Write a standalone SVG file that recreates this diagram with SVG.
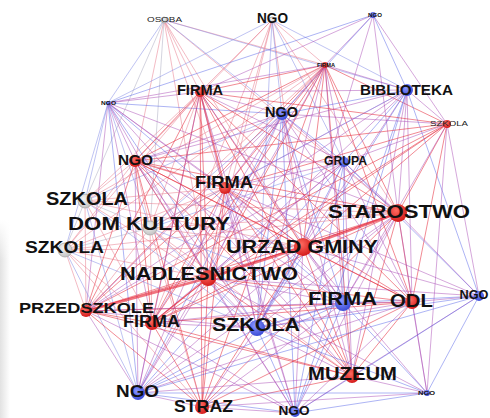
<svg xmlns="http://www.w3.org/2000/svg" width="490" height="418" viewBox="0 0 490 418">
<defs>
<style>
#edges path{fill:none;stroke-width:1;stroke-linecap:round}
.rr{stroke:#e62a3a;stroke-opacity:.55}
.rb{stroke:#a848b4;stroke-opacity:.48}
.bb{stroke:#4a58e6;stroke-opacity:.45}
.rg{stroke:#e8788a;stroke-opacity:.5}
.bg{stroke:#8088e6;stroke-opacity:.5}
.gg{stroke:#b0b0c4;stroke-opacity:.55}
.thk{stroke:#e62a3a;stroke-opacity:.65;stroke-width:2.4 !important}
.thm{stroke:#e62a3a;stroke-opacity:.55;stroke-width:1.6 !important}
.thb{stroke:#6a58d8;stroke-opacity:.55;stroke-width:1.5 !important}
.nr{fill:url(#gr)}
.nb{fill:url(#gb)}
.ng{fill:url(#gg);stroke:#a8a8a8;stroke-width:.8}
text{font-family:"Liberation Sans",Arial,sans-serif;font-weight:bold;fill:#111;text-anchor:middle}
.tn{font-weight:normal;fill:#222}
</style>
<radialGradient id="gr" cx="40%" cy="35%" r="65%"><stop offset="0" stop-color="#ff6a60"/><stop offset="1" stop-color="#d41c1c"/></radialGradient>
<radialGradient id="gb" cx="40%" cy="35%" r="65%"><stop offset="0" stop-color="#8a96ff"/><stop offset="1" stop-color="#3c4cd6"/></radialGradient>
<radialGradient id="gg" cx="40%" cy="35%" r="65%"><stop offset="0" stop-color="#f4f4f4"/><stop offset="1" stop-color="#c4c4c4"/></radialGradient>
<linearGradient id="strip" x1="0" y1="0" x2="1" y2="0"><stop offset="0" stop-color="#e2e2e2"/><stop offset="1" stop-color="#ffffff"/></linearGradient>
<linearGradient id="fade" x1="0" y1="0" x2="0" y2="1"><stop offset="0" stop-color="#fff" stop-opacity="1"/><stop offset="1" stop-color="#fff" stop-opacity="0"/></linearGradient>
</defs>
<rect width="490" height="418" fill="#fff"/>
<rect x="0" y="220" width="10" height="198" fill="url(#strip)"/>
<rect x="0" y="220" width="10" height="40" fill="url(#fade)"/>
<g id="edges">
<path class="rg" d="M164 20L200 92M164 20L135 161M164 20L225 188M164 20L325 65M164 20L303 247M164 20L208 278M164 20L398 213"/>
<path class="bg" d="M164 20L108 103M164 20L282 114M164 20L407 90"/>
<path class="gg" d="M164 20L150 228M164 20L85 201"/>
<path class="rg" d="M272 20L200 92M272 20L325 65M272 20L225 188M272 20L303 247M272 20L135 161M272 20L208 278M272 20L398 213M272 20L152 323"/>
<path class="bg" d="M272 20L282 114M272 20L344 162M272 20L108 103M272 20L407 90M272 20L257 328"/>
<path class="rb" d="M373 15L325 65M373 15L200 92M373 15L447 124M373 15L398 213M373 15L303 247"/>
<path class="bb" d="M373 15L407 90M373 15L108 103M373 15L282 114"/>
<path class="rr" d="M325 65L200 92M325 65L135 161M325 65L225 188M325 65L303 247M325 65L208 278M325 65L398 213M325 65L447 124M325 65L86 311M325 65L152 323M325 65L412 302M325 65L352 376M325 65L202 407"/>
<path class="rb" d="M325 65L282 114M325 65L344 162M325 65L407 90M325 65L257 328M325 65L343 303M325 65L108 103M325 65L138 393"/>
<path class="rg" d="M325 65L150 228M325 65L85 201M325 65L65 250"/>
<path class="rb" d="M407 90L398 213M407 90L200 92M407 90L135 161M407 90L225 188M407 90L303 247M407 90L208 278M407 90L412 302M407 90L447 124M407 90L352 376M407 90L86 311"/>
<path class="bb" d="M407 90L282 114M407 90L344 162M407 90L257 328M407 90L343 303M407 90L479 296M407 90L295 413"/>
<path class="bg" d="M407 90L150 228"/>
<path class="rr" d="M447 124L398 213M447 124L200 92M447 124L135 161M447 124L225 188M447 124L303 247M447 124L208 278M447 124L412 302M447 124L86 311M447 124L152 323"/>
<path class="rb" d="M447 124L343 303M447 124L479 296M447 124L282 114M447 124L344 162M447 124L427 393"/>
<path class="rb" d="M282 114L200 92M282 114L135 161M282 114L225 188M282 114L303 247M282 114L208 278M282 114L398 213M282 114L86 311M282 114L152 323M282 114L352 376M282 114L412 302"/>
<path class="bb" d="M282 114L344 162M282 114L257 328M282 114L343 303M282 114L138 393M282 114L108 103M282 114L295 413"/>
<path class="bg" d="M282 114L85 201M282 114L150 228"/>
<path class="rb" d="M344 162L398 213M344 162L200 92M344 162L135 161M344 162L225 188M344 162L303 247M344 162L208 278M344 162L412 302M344 162L352 376M344 162L86 311M344 162L152 323"/>
<path class="bb" d="M344 162L257 328M344 162L343 303M344 162L138 393M344 162L295 413M344 162L479 296"/>
<path class="bg" d="M344 162L150 228"/>
<path class="rr" d="M398 213L200 92M398 213L135 161M398 213L225 188M398 213L208 278M398 213L86 311M398 213L152 323M398 213L412 302M398 213L352 376M398 213L202 407"/>
<path class="rb" d="M398 213L257 328M398 213L343 303M398 213L479 296M398 213L427 393M398 213L295 413M398 213L138 393M398 213L108 103"/>
<path class="rg" d="M398 213L150 228M398 213L85 201M398 213L65 250"/>
<path class="rr" d="M200 92L135 161M200 92L303 247M200 92L208 278M200 92L86 311M200 92L152 323M200 92L412 302M200 92L352 376M200 92L202 407"/>
<path class="rb" d="M200 92L108 103M200 92L257 328M200 92L343 303M200 92L295 413M200 92L138 393"/>
<path class="rg" d="M200 92L85 201M200 92L150 228M200 92L65 250"/>
<path class="rb" d="M108 103L135 161M108 103L225 188M108 103L303 247M108 103L208 278M108 103L86 311M108 103L152 323M108 103L352 376"/>
<path class="bb" d="M108 103L257 328M108 103L343 303M108 103L138 393"/>
<path class="bg" d="M108 103L85 201M108 103L150 228M108 103L65 250"/>
<path class="rr" d="M135 161L303 247M135 161L208 278M135 161L86 311M135 161L152 323M135 161L412 302M135 161L352 376M135 161L202 407"/>
<path class="rb" d="M135 161L257 328M135 161L343 303M135 161L295 413M135 161L138 393"/>
<path class="rg" d="M135 161L85 201M135 161L150 228M135 161L65 250"/>
<path class="rr" d="M225 188L303 247M225 188L208 278M225 188L86 311M225 188L152 323M225 188L412 302M225 188L352 376M225 188L202 407"/>
<path class="rb" d="M225 188L257 328M225 188L343 303M225 188L479 296M225 188L295 413M225 188L138 393"/>
<path class="rg" d="M225 188L85 201M225 188L150 228M225 188L65 250"/>
<path class="gg" d="M85 201L150 228M85 201L65 250M150 228L65 250"/>
<path class="rg" d="M85 201L303 247M85 201L208 278M85 201L86 311M85 201L152 323"/>
<path class="bg" d="M85 201L257 328M85 201L138 393"/>
<path class="rg" d="M150 228L303 247M150 228L208 278M150 228L86 311M150 228L152 323M150 228L352 376M150 228L202 407"/>
<path class="bg" d="M150 228L257 328M150 228L343 303"/>
<path class="rg" d="M65 250L303 247M65 250L208 278M65 250L86 311M65 250L152 323M65 250L202 407"/>
<path class="bg" d="M65 250L257 328M65 250L138 393"/>
<path class="rr" d="M303 247L86 311M303 247L152 323M303 247L412 302M303 247L352 376M303 247L202 407"/>
<path class="rb" d="M303 247L343 303M303 247L479 296M303 247L427 393M303 247L295 413M303 247L138 393"/>
<path class="rr" d="M208 278L152 323M208 278L412 302M208 278L352 376M208 278L202 407"/>
<path class="rb" d="M208 278L257 328M208 278L343 303M208 278L479 296M208 278L427 393M208 278L295 413M208 278L138 393"/>
<path class="rr" d="M86 311L152 323M86 311L412 302M86 311L352 376M86 311L202 407"/>
<path class="rb" d="M86 311L257 328M86 311L343 303M86 311L295 413M86 311L138 393"/>
<path class="rr" d="M152 323L412 302M152 323L352 376M152 323L202 407"/>
<path class="rb" d="M152 323L257 328M152 323L343 303M152 323L295 413M152 323L138 393"/>
<path class="bb" d="M257 328L479 296M257 328L427 393M257 328L295 413M257 328L138 393"/>
<path class="rb" d="M257 328L412 302M257 328L352 376M257 328L202 407"/>
<path class="bb" d="M343 303L479 296M343 303L427 393M343 303L295 413M343 303L138 393"/>
<path class="rb" d="M343 303L412 302M343 303L352 376M343 303L202 407"/>
<path class="rr" d="M412 302L352 376M412 302L202 407"/>
<path class="rb" d="M412 302L479 296M412 302L427 393M412 302L295 413M412 302L138 393"/>
<path class="rb" d="M479 296L352 376"/>
<path class="bb" d="M479 296L427 393M479 296L295 413M479 296L138 393"/>
<path class="rr" d="M352 376L202 407"/>
<path class="rb" d="M352 376L427 393M352 376L295 413M352 376L138 393"/>
<path class="bb" d="M427 393L295 413M427 393L138 393M295 413L138 393"/>
<path class="rb" d="M427 393L202 407M295 413L202 407M138 393L202 407"/>
<path class="thk" d="M86 311L208 278L303 247L398 213"/>
<path class="thm" d="M200 92L225 188M135 161L225 188M208 278L152 323"/>
<path class="thb" d="M303 247L257 328M257 328L343 303"/>
</g>
<g id="n1"><circle class="ng" cx="164" cy="20" r="3"/><text class="tn" x="164.5" y="22" font-size="8" textLength="35" lengthAdjust="spacingAndGlyphs">OSOBA</text></g>
<g id="n2"><circle class="ng" cx="272" cy="20" r="3"/><text x="272.5" y="23" font-size="14" textLength="31" lengthAdjust="spacingAndGlyphs">NGO</text></g>
<g id="n3"><circle class="nb" cx="373" cy="15" r="3"/><text x="375" y="17" font-size="5" textLength="14" lengthAdjust="spacingAndGlyphs">NGO</text></g>
<g id="n4"><circle class="nr" cx="325" cy="65" r="3"/><text x="326" y="67" font-size="5" textLength="18" lengthAdjust="spacingAndGlyphs">FIRMA</text></g>
<g id="n5"><circle class="nb" cx="407" cy="90" r="6"/><text x="406.5" y="95" font-size="14" textLength="93" lengthAdjust="spacingAndGlyphs">BIBLIOTEKA</text></g>
<g id="n6"><circle class="nr" cx="447" cy="124" r="4"/><text class="tn" x="449" y="126" font-size="8" textLength="38" lengthAdjust="spacingAndGlyphs">SZKOLA</text></g>
<g id="n7"><circle class="nb" cx="282" cy="114" r="6"/><text x="281.5" y="117" font-size="14" textLength="33" lengthAdjust="spacingAndGlyphs">NGO</text></g>
<g id="n8"><circle class="nb" cx="344" cy="162" r="5"/><text x="345.5" y="165" font-size="12" textLength="43" lengthAdjust="spacingAndGlyphs">GRUPA</text></g>
<g id="n10"><circle class="nr" cx="200" cy="92" r="5"/><text x="200" y="95" font-size="14" textLength="46" lengthAdjust="spacingAndGlyphs">FIRMA</text></g>
<g id="n11"><circle class="nb" cx="108" cy="103" r="2"/><text x="108.5" y="104.5" font-size="5" textLength="15" lengthAdjust="spacingAndGlyphs">NGO</text></g>
<g id="n12"><circle class="nr" cx="135" cy="161" r="6"/><text x="135.5" y="165" font-size="15" textLength="35" lengthAdjust="spacingAndGlyphs">NGO</text></g>
<g id="n13"><circle class="nr" cx="225" cy="188" r="6"/><text x="224" y="188" font-size="17" textLength="58" lengthAdjust="spacingAndGlyphs">FIRMA</text></g>
<g id="n14"><circle class="ng" cx="85" cy="201" r="7"/><text x="87" y="205" font-size="18" textLength="82" lengthAdjust="spacingAndGlyphs">SZKOLA</text></g>
<g id="n15"><circle class="ng" cx="150" cy="228" r="7"/><text x="149" y="230" font-size="18" textLength="162" lengthAdjust="spacingAndGlyphs">DOM KULTURY</text></g>
<g id="n16"><circle class="ng" cx="65" cy="250" r="7"/><text x="64.5" y="253" font-size="17" textLength="79" lengthAdjust="spacingAndGlyphs">SZKOLA</text></g>
<g id="n9"><circle class="nr" cx="398" cy="213" r="9"/><text x="399" y="218" font-size="18" textLength="142" lengthAdjust="spacingAndGlyphs">STAROSTWO</text></g>
<g id="n17"><circle class="nr" cx="303" cy="247" r="9"/><text x="302" y="253" font-size="19" textLength="152" lengthAdjust="spacingAndGlyphs">URZAD GMINY</text></g>
<g id="n18"><circle class="nr" cx="208" cy="278" r="8"/><text x="209" y="280" font-size="19" textLength="178" lengthAdjust="spacingAndGlyphs">NADLESNICTWO</text></g>
<g id="n19"><circle class="nr" cx="86" cy="311" r="6"/><text x="86.5" y="313" font-size="15" textLength="135" lengthAdjust="spacingAndGlyphs">PRZEDSZKOLE</text></g>
<g id="n20"><circle class="nr" cx="152" cy="323" r="7"/><text x="151.5" y="327" font-size="16" textLength="57" lengthAdjust="spacingAndGlyphs">FIRMA</text></g>
<g id="n21"><circle class="nb" cx="257" cy="328" r="8"/><text x="256" y="331" font-size="18" textLength="88" lengthAdjust="spacingAndGlyphs">SZKOLA</text></g>
<g id="n22"><circle class="nb" cx="343" cy="303" r="8"/><text x="342.5" y="305" font-size="18" textLength="69" lengthAdjust="spacingAndGlyphs">FIRMA</text></g>
<g id="n23"><circle class="nr" cx="412" cy="302" r="7"/><text x="411.5" y="307" font-size="18" textLength="43" lengthAdjust="spacingAndGlyphs">ODL</text></g>
<g id="n24"><circle class="nb" cx="479" cy="296" r="5"/><text x="474" y="299" font-size="13" textLength="29" lengthAdjust="spacingAndGlyphs">NGO</text></g>
<g id="n25"><circle class="nr" cx="352" cy="376" r="7"/><text x="352.5" y="380" font-size="18" textLength="89" lengthAdjust="spacingAndGlyphs">MUZEUM</text></g>
<g id="n26"><circle class="nb" cx="427" cy="393" r="3"/><text x="426.5" y="395" font-size="6" textLength="17" lengthAdjust="spacingAndGlyphs">NGO</text></g>
<g id="n27"><circle class="nb" cx="295" cy="412" r="5"/><text x="294" y="414.5" font-size="12" textLength="31" lengthAdjust="spacingAndGlyphs">NGO</text></g>
<g id="n28"><circle class="nb" cx="138" cy="393" r="7"/><text x="137.5" y="397" font-size="17" textLength="43" lengthAdjust="spacingAndGlyphs">NGO</text></g>
<g id="n29"><circle class="nr" cx="202" cy="407" r="7"/><text x="203.5" y="412" font-size="17" textLength="59" lengthAdjust="spacingAndGlyphs">STRAZ</text></g>
</svg>
